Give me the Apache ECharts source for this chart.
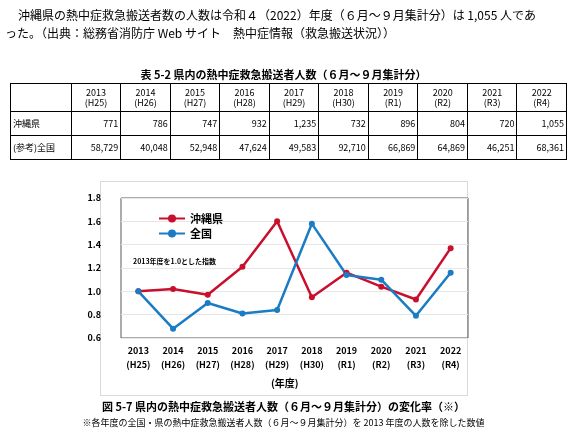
<!DOCTYPE html>
<html><head><meta charset="utf-8">
<script src="https://cdn.jsdelivr.net/npm/echarts@6/dist/echarts.min.js"></script>
<style>
body{margin:0;width:567px;height:439px;position:relative;background:#fff;font-family:"Noto Sans CJK JP",sans-serif;overflow:hidden}
.t{position:absolute;white-space:nowrap;color:#000}
#chart{position:absolute;left:0;top:0;width:567px;height:439px}
#box{position:absolute;left:100px;top:181px;width:366px;height:213px;border:1px solid #d9d9d9}
table{position:absolute;left:10px;top:83px;border-collapse:collapse;font-size:9px;font-family:"Noto Sans CJK JP",sans-serif}
td{border:1px solid #000;padding:0 2px;height:23px;text-align:right}
tr.h td{text-align:center;height:27px;line-height:10px}
td.f{text-align:left;width:57px}
td.v{width:45px}
</style></head><body>
<div id="box"></div>
<div id="chart"></div>
<div class="t" style="left:18px;top:6px;font-size:12px">沖縄県の熱中症救急搬送者数の人数は令和４（2022）年度（６月～９月集計分）は 1,055 人であ</div>
<div class="t" style="left:5px;top:24px;font-size:12px">った。（出典：総務省消防庁 Web サイト　熱中症情報（救急搬送状況））</div>
<div class="t" style="left:0;width:567px;text-align:center;top:66px;font-size:11px;font-weight:bold">表 5-2 県内の熱中症救急搬送者人数（６月～９月集計分）</div>
<table id="tb"></table>
<div class="t" style="left:0;width:567px;text-align:center;top:398px;font-size:11px;font-weight:bold">図 5-7 県内の熱中症救急搬送者人数（６月～９月集計分）の変化率（※）</div>
<div class="t" style="left:0;width:567px;text-align:center;top:416px;font-size:9px">※各年度の全国・県の熱中症救急搬送者人数（６月～９月集計分）を 2013 年度の人数を除した数値</div>
<script>
const years=["2013","2014","2015","2016","2017","2018","2019","2020","2021","2022"];
const eras=["H25","H26","H27","H28","H29","H30","R1","R2","R3","R4"];
const okinawaCount=["771","786","747","932","1,235","732","896","804","720","1,055"];
const nationCount=["58,729","40,048","52,948","47,624","49,583","92,710","66,869","64,869","46,251","68,361"];
const okinawaIdx=[1.00,1.02,0.97,1.21,1.60,0.95,1.16,1.04,0.93,1.37];
const nationIdx=[1.00,0.68,0.90,0.81,0.84,1.58,1.14,1.10,0.79,1.16];

let h='<tr class="h"><td class="f"></td>'+years.map((y,i)=>`<td class="v">${y}<br>(${eras[i]})</td>`).join('')+'</tr>';
h+='<tr><td class="f">沖縄県</td>'+okinawaCount.map(v=>`<td>${v}</td>`).join('')+'</tr>';
h+='<tr><td class="f">(参考)全国</td>'+nationCount.map(v=>`<td>${v}</td>`).join('')+'</tr>';
document.getElementById('tb').innerHTML=h;

const c=echarts.init(document.getElementById('chart'));
const ff='"Noto Sans CJK JP",sans-serif';
c.setOption({
 animation:false,
 grid:{left:121,right:99,top:198,bottom:101,show:true,borderColor:'#595959',borderWidth:1},
 legend:{left:153,top:208,orient:'vertical',itemGap:4,itemWidth:26,itemHeight:10,textStyle:{fontSize:11,fontFamily:ff,fontWeight:'bold',color:'#000'},data:['沖縄県','全国']},
 graphic:[
  {type:'text',left:133,top:258,style:{text:'2013年度を1.0とした指数',fontSize:7,fontFamily:ff,fontWeight:'bold',fill:'#000'}},
  {type:'text',left:271,top:378,style:{text:'(年度)',fontSize:10,fontFamily:ff,fontWeight:'bold',fill:'#000'}}
 ],
 xAxis:{type:'category',boundaryGap:true,data:years.map((y,i)=>y+'\n('+eras[i]+')'),
  axisLine:{show:false},axisTick:{show:false},
  axisLabel:{fontSize:9,fontFamily:ff,fontWeight:'bold',color:'#000',lineHeight:14,margin:6,interval:0}},
 yAxis:{type:'value',min:0.6,max:1.8,interval:0.2,
  axisLine:{show:false},axisTick:{show:false},
  axisLabel:{fontSize:9,fontFamily:ff,fontWeight:'bold',color:'#000',formatter:v=>v.toFixed(1),margin:20},
  splitLine:{lineStyle:{color:'#e6e6e6'}}},
 series:[
  {name:'沖縄県',type:'line',data:okinawaIdx,symbol:'circle',symbolSize:6,color:'#c8102e',lineStyle:{width:2.5}},
  {name:'全国',type:'line',data:nationIdx,symbol:'circle',symbolSize:6,color:'#1a7cc4',lineStyle:{width:2.5}}
 ]
});
</script>
</body></html>
